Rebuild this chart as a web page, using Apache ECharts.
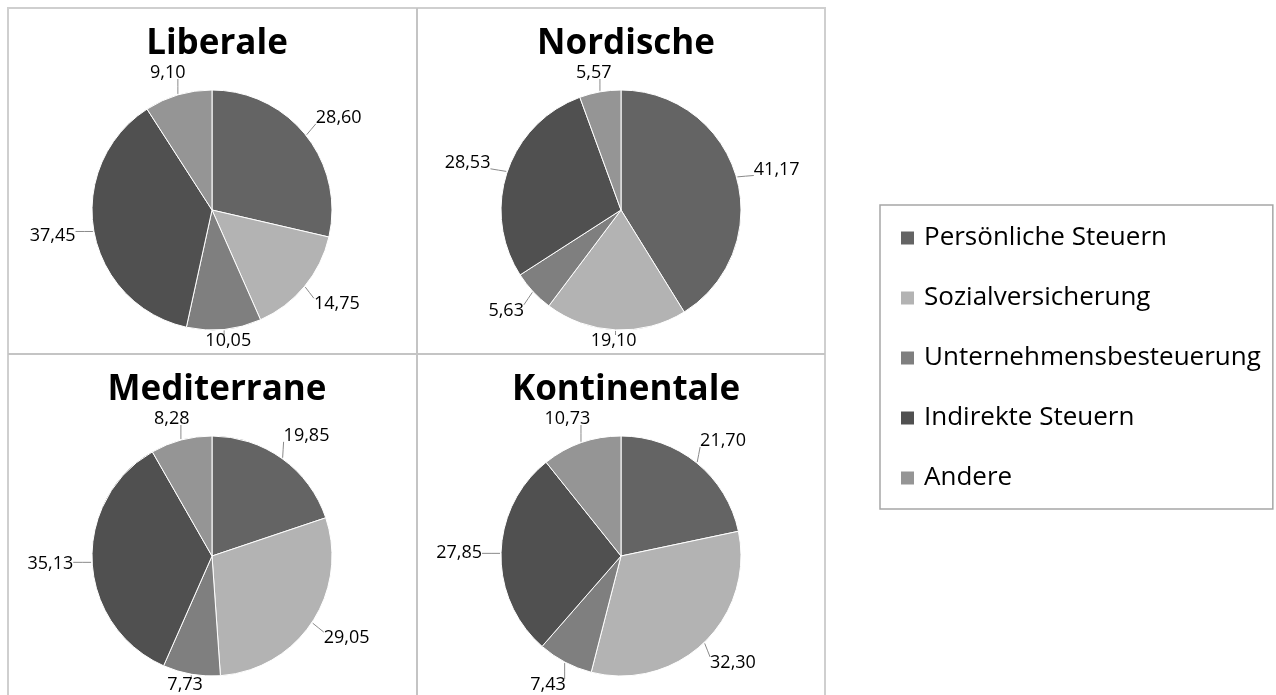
<!DOCTYPE html>
<html><head><meta charset="utf-8">
<script src="https://cdn.jsdelivr.net/npm/echarts@6/dist/echarts.min.js"></script>
<style>html,body{margin:0;padding:0;background:#fff}#c{width:1276px;height:695px}</style>
</head><body><div id="c"></div>
<script>
const categories = ['Persönliche Steuern','Sozialversicherung','Unternehmensbesteuerung','Indirekte Steuern','Andere'];
const regimes = ['Liberale','Nordische','Mediterrane','Kontinentale'];
const liberale = [28.60, 14.75, 10.05, 37.45, 9.10];
const nordische = [41.17, 19.10, 5.63, 28.53, 5.57];
const mediterrane = [19.85, 29.05, 7.73, 35.13, 8.28];
const kontinentale = [21.70, 32.30, 7.43, 27.85, 10.73];
const colors = ['#646464','#b3b3b3','#7f7f7f','#505050','#959595'];

const allValues = [liberale, nordische, mediterrane, kontinentale];
const centers = [[212,210],[621,210],[212,556],[621,556]];
const panelBottom = [350, 350, 694, 694];
const R = 120;
const GAP = 19;
const FONT = '"Open Sans", sans-serif';

const chart = echarts.init(document.getElementById('c'));
const fmt = v => v.toFixed(2).replace('.', ',');

function makeLayout(si) {
  const vals = allValues[si];
  const total = vals.reduce((a, b) => a + b, 0);
  const [cx, cy] = centers[si];
  const minTop = cy - 146;
  return function (params) {
    let acc = 0;
    for (let k = 0; k < params.dataIndex; k++) acc += vals[k];
    const mid = (acc + vals[params.dataIndex] / 2) / total * Math.PI * 2;
    const ux = Math.sin(mid), uy = -Math.cos(mid);
    const w = params.labelRect.width, h = params.labelRect.height;
    let lx = cx + (R + GAP) * ux + (w / 2) * ux;
    let ly = cy + (R + GAP) * uy + (h / 2) * uy;
    if (ly + h / 2 > panelBottom[si]) ly = panelBottom[si] - h / 2;
    if (ly - h / 2 < minTop) ly = minTop + h / 2;
    const ex = cx + (R + 1) * ux, ey = cy + (R + 1) * uy;
    const bx0 = lx - w / 2, bx1 = lx + w / 2, by0 = ly - h / 2 + 3, by1 = ly + h / 2 - 3;
    const nx = Math.min(Math.max(ex, bx0), bx1);
    const ny = Math.min(Math.max(ey, by0), by1);
    return {
      x: lx, y: ly, align: 'center', verticalAlign: 'middle',
      labelLinePoints: [[ex, ey], [(ex + nx) / 2, (ey + ny) / 2], [nx, ny]]
    };
  };
}

const series = allValues.map((vals, i) => ({
  type: 'pie',
  center: centers[i],
  radius: R,
  startAngle: 90,
  clockwise: true,
  animation: false,
  silent: true,
  avoidLabelOverlap: false,
  itemStyle: { borderColor: '#ffffff', borderWidth: 1 },
  label: {
    show: true, position: 'outside', color: '#000', fontFamily: FONT, fontSize: 18,
    formatter: p => fmt(p.value)
  },
  labelLine: { show: true, length: 14, length2: 6, lineStyle: { color: '#8a8a8a', width: 1 } },
  labelLayout: makeLayout(i),
  data: vals.map((v, k) => ({ name: categories[k], value: v, itemStyle: { color: colors[k] } }))
}));

const titles = regimes.map((t, i) => ({
  text: t, left: centers[i][0], top: centers[i][1] - 188, textAlign: 'center',
  textStyle: { fontFamily: FONT, fontWeight: 'bold', fontSize: 35, color: '#000' }
}));

chart.setOption({
  backgroundColor: '#fff',
  color: colors,
  title: titles,
  legend: {
    orient: 'vertical', left: 880, top: 205,
    padding: [20, 12, 18, 19],
    itemWidth: 15, itemHeight: 15, itemGap: 34, icon: 'rect',
    borderColor: '#a6a6a6', borderWidth: 1.5,
    textStyle: { fontFamily: FONT, fontSize: 26, color: '#000', padding: [0, 0, 0, 4] },
    data: categories
  },
  graphic: [
    { type: 'rect', shape: { x: 8, y: 8, width: 817, height: 720 }, style: { fill: 'none', stroke: '#cfcfcf', lineWidth: 2 }, silent: true },
    { type: 'line', shape: { x1: 417, y1: 8, x2: 417, y2: 700 }, style: { stroke: '#c4c4c4', lineWidth: 2 }, silent: true },
    { type: 'line', shape: { x1: 8, y1: 354, x2: 825, y2: 354 }, style: { stroke: '#c4c4c4', lineWidth: 2 }, silent: true }
  ],
  series: series
});
</script></body></html>
